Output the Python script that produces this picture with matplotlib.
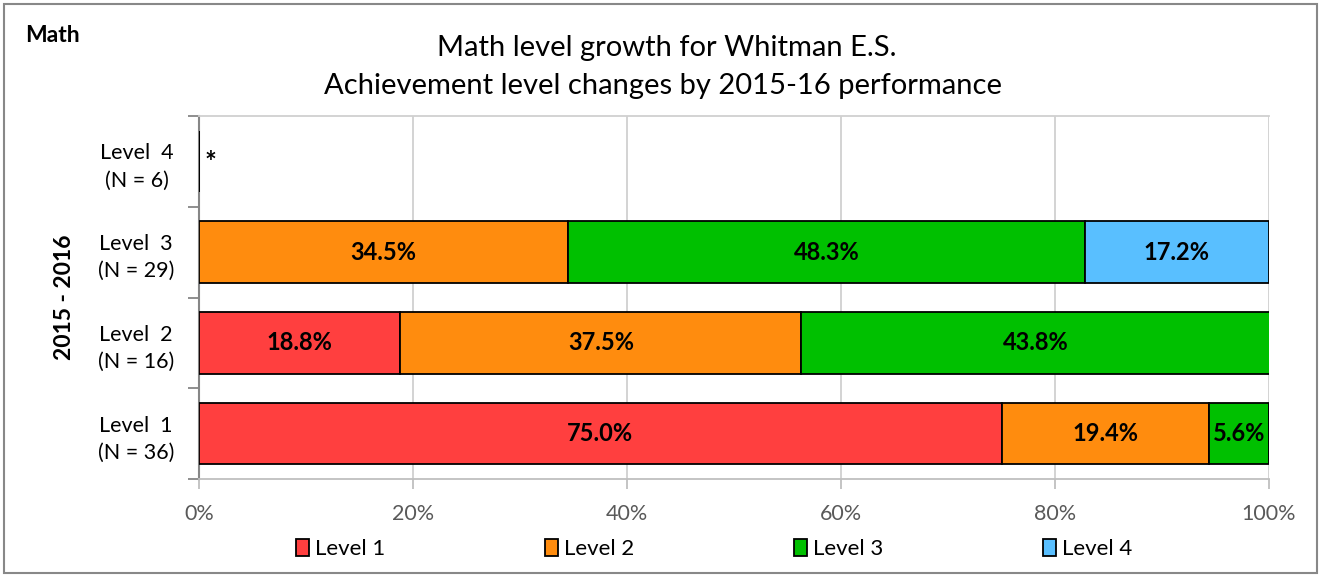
import matplotlib
matplotlib.use("Agg")
import matplotlib.pyplot as plt
from matplotlib.patches import Rectangle, Patch
import numpy as np

plt.rcParams['font.family'] = ['Lato', 'DejaVu Sans']

categories = ["Level  1\n(N = 36)", "Level  2\n(N = 16)", "Level  3\n(N = 29)", "Level  4\n(N = 6)"]
series_names = ["Level 1", "Level 2", "Level 3", "Level 4"]
level1 = [75.0, 18.8, 0.0, 0.0]
level2 = [19.4, 37.5, 34.5, 0.0]
level3 = [5.6, 43.8, 48.3, 0.0]
level4 = [0.0, 0.0, 17.2, 0.0]
suppressed = [False, False, False, True]
xticks = [0, 20, 40, 60, 80, 100]
xtick_labels = ["0%", "20%", "40%", "60%", "80%", "100%"]
colors = ["#FF3F3F", "#FF8C0E", "#00C000", "#59BFFF"]

W, H = 1321, 577
fig = plt.figure(figsize=(W / 100, H / 100), dpi=100)

# outer border
fig.patches.append(Rectangle((4 / W, 4 / H), 1 - 8 / W, 1 - 8 / H, transform=fig.transFigure,
                             fill=False, edgecolor="#888888", linewidth=1.5))

left, right, top, bottom = 199, 1269, 116, 479
ax = fig.add_axes([left / W, 1 - bottom / H, (right - left) / W, (bottom - top) / H])

y = np.arange(len(categories))
series = [level1, level2, level3, level4]
cum = np.zeros(len(categories))
for name, vals, c in zip(series_names, series, colors):
    vals = np.array(vals)
    ax.barh(y, vals, left=cum, height=0.68, color=c, edgecolor="black", linewidth=1.3,
            label=name, zorder=3)
    for i, v in enumerate(vals):
        if v > 0:
            ax.text(cum[i] + v / 2, y[i], f"{v:.1f}%", ha="center", va="center",
                    fontsize=17, fontweight="bold", color="black", zorder=4)
    cum += vals

for i, s in enumerate(suppressed):
    if s:
        ax.text(0.5, y[i] - 0.02, "*", ha="left", va="center", fontsize=20, fontweight="bold")

ax.set_xlim(0, 100)
ax.set_ylim(-0.5, len(categories) - 0.5)
ax.set_xticks(xticks)
ax.set_xticklabels(xtick_labels, fontsize=15.5, color="#595959")
ax.set_yticks(y)
ax.set_yticklabels(categories, fontsize=15.5, multialignment="center", linespacing=1.45)
ax.set_yticks(np.arange(-0.5, len(categories), 1.0), minor=True)
ax.tick_params(axis="y", which="major", length=0, pad=18)
ax.tick_params(axis="y", which="minor", length=8, color="#868686", width=1.3)
ax.tick_params(axis="x", which="major", length=7, color="#BFBFBF", width=1.3, pad=11)
ax.grid(axis="x", color="#D0D0D0", linewidth=1.3, zorder=0)
ax.spines["right"].set_visible(False)
ax.spines["top"].set_color("#D0D0D0")
ax.spines["top"].set_linewidth(1.3)
ax.spines["left"].set_color("#868686")
ax.spines["left"].set_linewidth(1.5)
ax.spines["bottom"].set_color("#BFBFBF")
ax.spines["bottom"].set_linewidth(1.3)

ax.set_ylabel("2015 - 2016", fontsize=16.5, fontweight="bold", labelpad=16)

fig.text(25 / W, 1 - 35 / H, "Math", fontsize=16.5, fontweight="bold", ha="left", va="center")
fig.text(667 / W, 1 - 48 / H, "Math level growth for Whitman E.S.", fontsize=21,
         ha="center", va="center")
fig.text(663 / W, 1 - 86 / H, "Achievement level changes by 2015-16 performance",
         fontsize=21, ha="center", va="center")

handles = [Patch(facecolor=c, edgecolor="black", linewidth=1.3) for c in colors]
fig.legend(handles, series_names, loc="center", bbox_to_anchor=(714 / W, 1 - 549 / H), ncol=4,
           frameon=False, fontsize=16, handlelength=0.6, handleheight=0.8, handletextpad=0.25,
           columnspacing=7.2)

fig.savefig("out.png", dpi=100)
